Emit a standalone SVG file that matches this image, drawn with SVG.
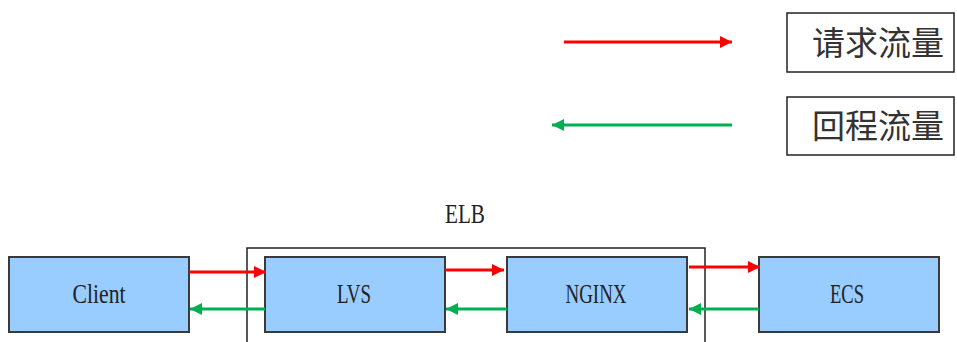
<svg xmlns="http://www.w3.org/2000/svg" width="957" height="342" viewBox="0 0 957 342">
<defs>
<style>
.node{fill:#99ccff;stroke:#3a3a3a;stroke-width:2}
.lbl{font-family:"Liberation Serif","DejaVu Serif",serif;font-size:27px;fill:#222;text-anchor:middle}
.leg{fill:#fff;stroke:#222;stroke-width:1.5}
.legt{font-family:"Noto Sans CJK SC","Noto Sans",sans-serif;font-size:33px;fill:#333;text-anchor:middle}
.req{stroke:#ff0000;stroke-width:3;fill:none}
.ret{stroke:#00b050;stroke-width:3;fill:none}
</style>
<marker id="ar" viewBox="0 0 10 10" refX="10" refY="5" markerWidth="4" markerHeight="4" orient="auto" markerUnits="strokeWidth"><path d="M0,0 L10,5 L0,10 z" fill="#ff0000"/></marker>
<marker id="ag" viewBox="0 0 10 10" refX="10" refY="5" markerWidth="4" markerHeight="4" orient="auto" markerUnits="strokeWidth"><path d="M0,0 L10,5 L0,10 z" fill="#00b050"/></marker>
</defs>
<rect width="957" height="342" fill="#fff"/>
<g id="legend-request">
<rect class="leg" x="787" y="13" width="167" height="59"/>
<text class="legt" x="878" y="55">请求流量</text>
</g>
<g id="legend-return">
<rect class="leg" x="787" y="97" width="167" height="58"/>
<text class="legt" x="878" y="138">回程流量</text>
</g>
<g id="elb">
<rect x="247" y="248" width="458" height="110" fill="none" stroke="#222" stroke-width="1.5"/>
<text class="lbl" x="465" y="223" textLength="40" lengthAdjust="spacingAndGlyphs">ELB</text>
</g>
<g id="client">
<rect class="node" x="9" y="257" width="180" height="75"/>
<text class="lbl" x="99" y="303" textLength="53" lengthAdjust="spacingAndGlyphs">Client</text>
</g>
<g id="lvs">
<rect class="node" x="265" y="257" width="180" height="75"/>
<text class="lbl" x="354" y="303" textLength="34" lengthAdjust="spacingAndGlyphs">LVS</text>
</g>
<g id="nginx">
<rect class="node" x="507" y="257" width="180" height="75"/>
<text class="lbl" x="596" y="303" textLength="61" lengthAdjust="spacingAndGlyphs">NGINX</text>
</g>
<g id="ecs">
<rect class="node" x="759" y="257" width="180" height="75"/>
<text class="lbl" x="847" y="303" textLength="34" lengthAdjust="spacingAndGlyphs">ECS</text>
</g>
<g id="connectors">
<line class="req" x1="564" y1="42" x2="732" y2="42" marker-end="url(#ar)"/>
<line class="ret" x1="732" y1="125" x2="552" y2="125" marker-end="url(#ag)"/>
<line class="req" x1="189" y1="272" x2="266" y2="272" marker-end="url(#ar)"/>
<line class="req" x1="445" y1="270" x2="504" y2="270" marker-end="url(#ar)"/>
<line class="req" x1="689" y1="267" x2="760" y2="267" marker-end="url(#ar)"/>
<line class="ret" x1="265" y1="309" x2="190" y2="309" marker-end="url(#ag)"/>
<line class="ret" x1="507" y1="309" x2="446" y2="309" marker-end="url(#ag)"/>
<line class="ret" x1="759" y1="309" x2="689" y2="309" marker-end="url(#ag)"/>
</g>
</svg>
